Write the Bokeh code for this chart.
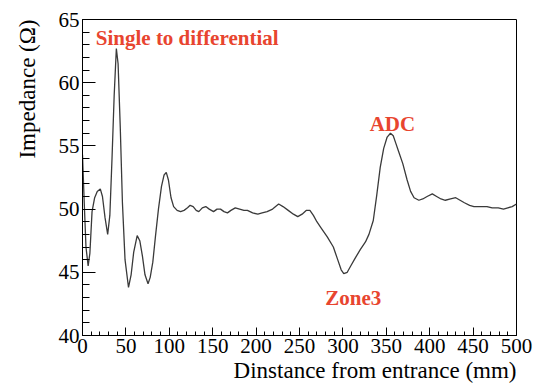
from bokeh.plotting import figure
from bokeh.models import Range1d, SingleIntervalTicker, Title, ColumnDataSource
from bokeh.core.properties import value
from bokeh.embed import file_html
from bokeh.resources import INLINE

# Distance from entrance (mm)
distance = [0, 2, 4, 6.5, 8.5, 11, 14, 17, 20.5, 23, 26, 29, 31.5, 34, 36.5, 39, 41,
            43.5, 46, 49, 53, 56, 59, 63, 66, 69, 72, 75.5, 78, 81, 84, 87.5, 91, 94,
            96.5, 99, 102, 105, 109, 113, 117, 121, 124, 127.5, 131, 134, 138, 142,
            146, 151, 155, 159, 163, 167, 171, 176, 181, 186, 190, 196, 202, 207,
            212.7, 219, 226, 231, 237, 243, 248, 253, 258, 262, 266, 270, 275, 282,
            289, 294, 298, 301, 305, 309, 314, 320, 326, 330, 335, 339, 343, 347,
            351, 354.8, 358, 361, 364, 369, 374, 378, 382, 387.5, 392, 397, 403, 408,
            413, 418, 424, 430, 435, 440, 446, 451, 458, 466, 472, 479, 485, 490,
            495, 500]
# Impedance (Ohm)
impedance = [54.3, 50.5, 47.0, 45.5, 46.5, 49.8, 50.9, 51.4, 51.6, 51.0, 49.3, 48.0,
             49.5, 54.0, 59.0, 62.7, 61.5, 56.5, 50.5, 46.0, 43.8, 44.8, 46.6, 47.9,
             47.5, 46.3, 44.8, 44.1, 44.6, 45.8, 47.8, 50.0, 51.8, 52.7, 52.9, 52.3,
             50.9, 50.2, 49.9, 49.8, 49.9, 50.1, 50.3, 50.2, 49.9, 49.8, 50.1, 50.2,
             50.0, 49.8, 50.0, 50.0, 49.8, 49.7, 49.9, 50.1, 50.0, 49.9, 49.9, 49.7,
             49.6, 49.7, 49.8, 50.0, 50.4, 50.2, 49.9, 49.6, 49.4, 49.6, 49.9, 49.9,
             49.5, 49.0, 48.5, 47.8, 47.0, 46.0, 45.2, 44.9, 45.0, 45.5, 46.1, 46.8,
             47.4, 48.0, 49.1, 51.1, 53.3, 54.8, 55.7, 56.0, 55.8, 55.2, 54.6, 53.6,
             52.3, 51.4, 50.9, 50.7, 50.8, 51.0, 51.2, 51.0, 50.8, 50.7, 50.8, 50.9,
             50.7, 50.5, 50.3, 50.2, 50.2, 50.2, 50.1, 50.1, 50.0, 50.1, 50.2, 50.4]

ann_text = ["Single to differential", "ADC", "Zone3"]
ann_x = [15.3, 357, 312]
ann_y = [63.5, 56.77, 42.93]
ann_align = ["left", "center", "center"]

x_title = "Dinstance from entrance (mm)"
y_title = "Impedance (\u03a9)"

SERIF = "Liberation Serif"

p = figure(width=534, height=387, output_backend="svg", toolbar_location=None,
           x_range=Range1d(0, 500), y_range=Range1d(40, 65),
           min_border_left=82, min_border_right=18, min_border_top=19,
           min_border_bottom=52)
p.background_fill_color = "white"
p.border_fill_color = "white"
p.outline_line_color = "black"
p.outline_line_width = 1
p.xgrid.visible = False
p.ygrid.visible = False

p.xaxis.ticker = SingleIntervalTicker(interval=50, num_minor_ticks=5)
p.yaxis.ticker = SingleIntervalTicker(interval=5, num_minor_ticks=5)
for ax in (p.xaxis, p.yaxis):
    ax.axis_line_color = "black"
    ax.major_tick_line_color = "black"
    ax.minor_tick_line_color = "black"
    ax.major_tick_out = 0
    ax.minor_tick_out = 0
    ax.major_label_text_font = SERIF
    ax.major_label_text_font_size = "21px"
    ax.major_label_text_color = "black"
p.xaxis.major_tick_in = 8
p.xaxis.minor_tick_in = 4
p.yaxis.major_tick_in = 13
p.yaxis.minor_tick_in = 7
p.xaxis.major_label_standoff = 3
p.yaxis.major_label_standoff = 3

p.line(distance, impedance, line_color="#3a3a3a", line_width=1.3)

src = ColumnDataSource(dict(x=ann_x, y=ann_y, t=ann_text, a=ann_align))
p.text(x="x", y="y", text="t", source=src, text_align="a",
       text_baseline="alphabetic", text_font=value(SERIF), text_font_style="bold",
       text_font_size="21px", text_color="#e8452f")

p.add_layout(Title(text=x_title, align="right", standoff=0, text_font=SERIF,
                   text_font_size="23px", text_font_style="normal",
                   text_color="black"), "below")
p.add_layout(Title(text=y_title, align="right", vertical_align="top", standoff=28,
                   text_font=SERIF, text_font_size="23px", text_font_style="normal",
                   text_color="black"), "left")

open("out.html", "w").write(file_html(p, INLINE))
